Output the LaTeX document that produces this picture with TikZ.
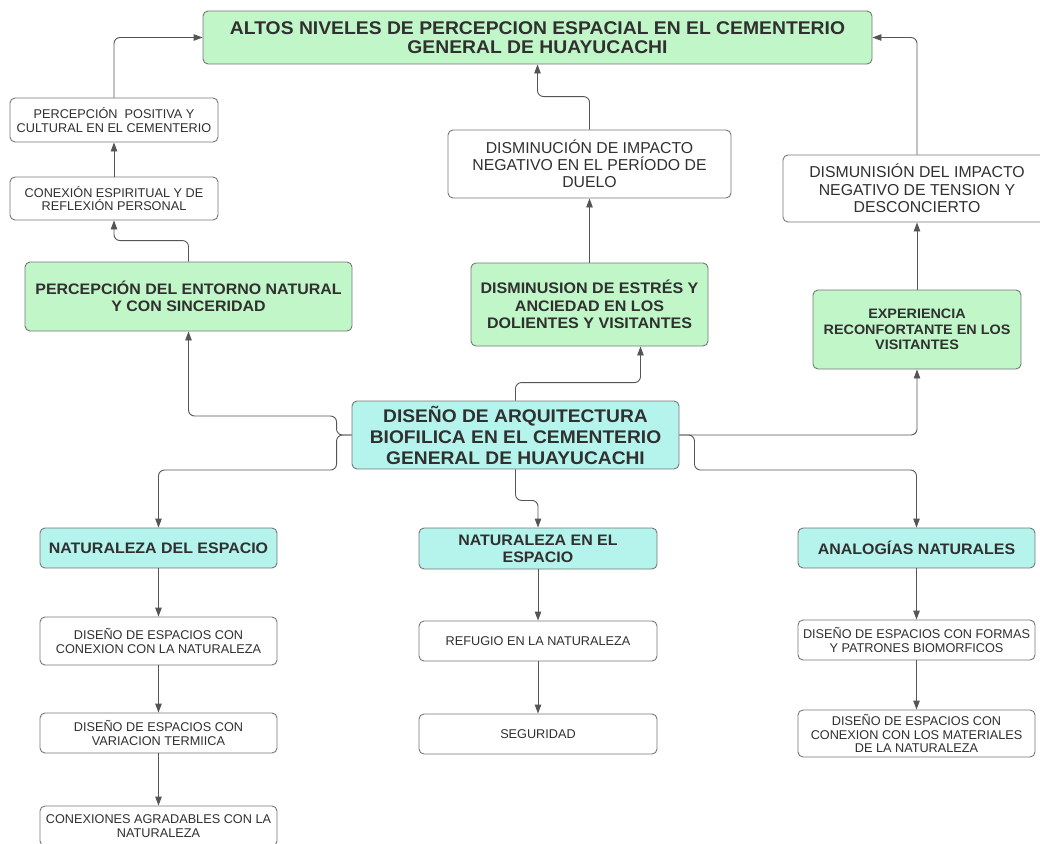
\documentclass[tikz,border=0pt]{standalone}
\usepackage{fontspec}
\setmainfont{Liberation Sans}[BoldFeatures={FakeStretch=1.05}]
\usetikzlibrary{arrows.meta}
\definecolor{mapGreen}{RGB}{193,246,200}
\definecolor{mapCyan}{RGB}{181,244,236}
\definecolor{mapLine}{RGB}{118,118,118}
\definecolor{mapArrowColor}{RGB}{85,85,85}
\definecolor{mapText}{RGB}{48,48,48}
\newcommand{\mapTitleFont}{\fontsize{18.4}{19}\selectfont\bfseries}
\newcommand{\mapHeadFont}{\fontsize{15.2}{17}\selectfont\bfseries}
\newcommand{\mapMidFont}{\fontsize{15.8}{17.2}\selectfont}
\newcommand{\mapSmallFont}{\fontsize{12.7}{13.5}\selectfont}

\begin{document}
\begin{tikzpicture}[x=1pt,y=-1pt,
  plainBox/.style={draw=mapLine, line width=0.9pt, rounded corners=5pt, fill=white, text=mapText, align=center, inner sep=0pt},
  greenBox/.style={plainBox, fill=mapGreen},
  cyanBox/.style={plainBox, fill=mapCyan},
  mapArrow/.style={draw=mapArrowColor, line width=0.9pt, rounded corners=6pt, -{Triangle[length=9pt,width=6.5pt]}}]
\clip (0,0) rectangle (1040,843);
% upper results
\node[greenBox, minimum width=669pt, minimum height=53pt, font=\mapTitleFont] (altos) at (537.5,37.5) {ALTOS NIVELES DE PERCEPCION ESPACIAL EN EL CEMENTERIO\\GENERAL DE HUAYUCACHI};
\node[plainBox, minimum width=208pt, minimum height=44pt, font=\mapSmallFont] (positiva) at (114,120) {PERCEPCIÓN\ \ POSITIVA Y\\CULTURAL EN EL CEMENTERIO};
\node[plainBox, minimum width=208pt, minimum height=43pt, font=\mapSmallFont] (espiritual) at (114,198.5) {CONEXIÓN ESPIRITUAL Y DE\\REFLEXIÓN PERSONAL};
\node[greenBox, minimum width=327pt, minimum height=69pt, font=\mapHeadFont] (entorno) at (188.5,296.5) {PERCEPCIÓN DEL ENTORNO NATURAL\\Y CON SINCERIDAD};
\node[plainBox, minimum width=283pt, minimum height=68pt, font=\mapMidFont] (duelo) at (589.5,164) {DISMINUCIÓN DE IMPACTO\\NEGATIVO EN EL PERÍODO DE\\DUELO};
\node[greenBox, minimum width=237pt, minimum height=83pt, font={\fontsize{15.3}{17.5}\selectfont\bfseries}] (estres) at (589.5,304.5) {DISMINUSION DE ESTRÉS Y\\ANCIEDAD EN LOS\\DOLIENTES Y VISITANTES};
\node[plainBox, minimum width=268pt, minimum height=67pt, font={\fontsize{15.8}{17.5}\selectfont}] (tension) at (917,188.5) {DISMUNISIÓN DEL IMPACTO\\NEGATIVO DE TENSION Y\\DESCONCIERTO};
\node[greenBox, minimum width=208pt, minimum height=79pt, font={\fontsize{13.7}{15.5}\selectfont\bfseries}] (reconforte) at (917,329.5) {EXPERIENCIA\\RECONFORTANTE EN LOS\\VISITANTES};
% centre
\node[cyanBox, minimum width=327pt, minimum height=68pt, font={\fontsize{18.3}{21}\selectfont\bfseries}] (diseno) at (515.5,435) {DISEÑO DE ARQUITECTURA\\BIOFILICA EN EL CEMENTERIO\\GENERAL DE HUAYUCACHI};
% lower branches
\node[cyanBox, minimum width=237pt, minimum height=40pt, font=\mapHeadFont] (natDel) at (158.5,548) {NATURALEZA DEL ESPACIO};
\node[cyanBox, minimum width=238pt, minimum height=41pt, font=\mapHeadFont] (natEn) at (538,548.5) {NATURALEZA EN EL\\ESPACIO};
\node[cyanBox, minimum width=237pt, minimum height=40pt, font=\mapHeadFont] (analogias) at (916.5,548) {ANALOGÍAS NATURALES};
\node[plainBox, minimum width=237pt, minimum height=48pt, font=\mapSmallFont] (conexNat) at (158.5,641) {DISEÑO DE ESPACIOS CON\\CONEXION CON LA NATURALEZA};
\node[plainBox, minimum width=237pt, minimum height=40pt, font=\mapSmallFont] (termica) at (158.5,733) {DISEÑO DE ESPACIOS CON\\VARIACION TERMIICA};
\node[plainBox, minimum width=237pt, minimum height=40pt, font=\mapSmallFont] (agradable) at (158.5,826) {CONEXIONES AGRADABLES CON LA\\NATURALEZA};
\node[plainBox, minimum width=238pt, minimum height=40pt, font=\mapSmallFont] (refugio) at (538,641) {REFUGIO EN LA NATURALEZA};
\node[plainBox, minimum width=238pt, minimum height=40pt, font=\mapSmallFont] (seguridad) at (538,734) {SEGURIDAD};
\node[plainBox, minimum width=237pt, minimum height=40pt, font=\mapSmallFont] (biomorf) at (916.5,640) {DISEÑO DE ESPACIOS CON FORMAS\\Y PATRONES BIOMORFICOS};
\node[plainBox, minimum width=237pt, minimum height=47pt, font=\mapSmallFont] (materiales) at (916.5,733.5) {DISEÑO DE ESPACIOS CON\\CONEXION CON LOS MATERIALES\\DE LA NATURALEZA};
% connectors upwards
\draw[mapArrow] (espiritual.north) -- (positiva.south);
\draw[mapArrow] (positiva.north) |- (altos.west);
\draw[mapArrow] (entorno.north) -- ++(0,-21) -| (espiritual.south);
\draw[mapArrow] (estres.north) -- (duelo.south);
\draw[mapArrow] (duelo.north) -- ++(0,-33) -| (altos.south);
\draw[mapArrow] (reconforte.north) -- (tension.south);
\draw[mapArrow] (tension.north) |- (altos.east);
\draw[mapArrow] (diseno.west) -| ++(-15,-19) -| (entorno.south);
\draw[mapArrow] (diseno.north) -- ++(0,-18) -| ([xshift=51pt]estres.south);
\draw[mapArrow] (diseno.east) -| (reconforte.south);
% connectors downwards
\draw[mapArrow] (diseno.west) -| ++(-15,35) -| (natDel.north);
\draw[mapArrow] (diseno.south) -- ++(0,31) -| (natEn.north);
\draw[mapArrow] (diseno.east) -| ++(15,35) -| (analogias.north);
\draw[mapArrow] (natDel.south) -- (conexNat.north);
\draw[mapArrow] (conexNat.south) -- (termica.north);
\draw[mapArrow] (termica.south) -- (agradable.north);
\draw[mapArrow] (natEn.south) -- (refugio.north);
\draw[mapArrow] (refugio.south) -- (seguridad.north);
\draw[mapArrow] (analogias.south) -- (biomorf.north);
\draw[mapArrow] (biomorf.south) -- (materiales.north);
\end{tikzpicture}
\end{document}
